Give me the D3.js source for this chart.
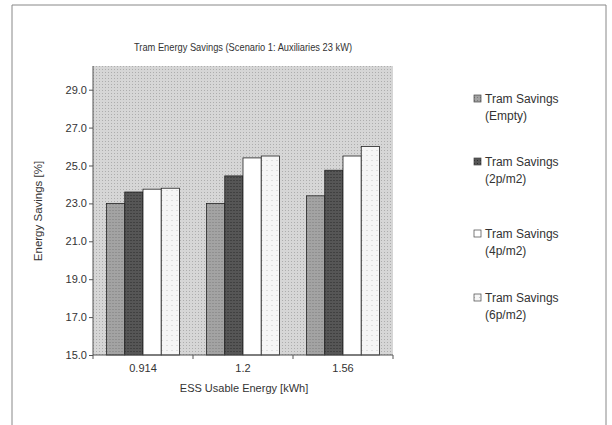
<!DOCTYPE html>
<meta charset="utf-8">
<style>
  body { margin: 0; background: #fff; }
  text { font-family: "Liberation Sans", Arial, sans-serif; fill: #333; }
  .axis path, .axis line { stroke: #555; }
</style>
<body>
<script src="https://cdn.jsdelivr.net/npm/d3@7"></script>
<script>

var categories = ["0.914", "1.2", "1.56"];
var seriesNames = ["Empty", "2p/m2", "4p/m2", "6p/m2"];
var empty = [23.0, 23.0, 23.4];
var p2 = [23.6, 24.45, 24.75];
var p4 = [23.75, 25.4, 25.5];
var p6 = [23.8, 25.5, 26.0];
var yTicks = [15, 17, 19, 21, 23, 25, 27, 29];

var values = [empty, p2, p4, p6];

var width = 612, height = 425;
var plot = {left: 93, right: 393, top: 66, bottom: 355};

var svg = d3.select("body").append("svg")
    .attr("width", width)
    .attr("height", height);

var defs = svg.append("defs");

// light speckle so the fills look a bit like the scanned print
function pattern(id, bg, dot, size) {
  var p = defs.append("pattern")
      .attr("id", id)
      .attr("width", size).attr("height", size)
      .attr("patternUnits", "userSpaceOnUse");
  p.append("rect").attr("width", size).attr("height", size).attr("fill", bg);
  if (dot) p.append("rect").attr("width", 1).attr("height", 1).attr("fill", dot);
}
pattern("bg", "#d6d6d6", "#adadad", 3);
pattern("s0", "#a3a3a3", "#7c7c7c", 3);
pattern("s1", "#565656", "#2c2c2c", 3);
pattern("s2", "#ffffff", null, 3);
pattern("s3", "#f6f6f6", "#c8c8c8", 5);

// outer frame
svg.append("path")
    .attr("d", "M12,425V5H606V425")
    .attr("fill", "none")
    .attr("stroke", "#888");

var y = d3.scaleLinear()
    .domain([15, 30.25])
    .range([plot.bottom, plot.top]);

var x0 = d3.scaleBand()
    .domain(categories)
    .range([plot.left, plot.right])
    .paddingInner(0.27)
    .paddingOuter(0.135);

var x1 = d3.scaleBand()
    .domain(seriesNames)
    .range([0, x0.bandwidth()]);

svg.append("rect")
    .attr("x", plot.left).attr("y", plot.top)
    .attr("width", plot.right - plot.left)
    .attr("height", plot.bottom - plot.top)
    .attr("fill", "url(#bg)");

var groups = svg.selectAll("g.group")
    .data(categories)
  .enter().append("g")
    .attr("class", "group")
    .attr("transform", function(d) { return "translate(" + x0(d) + ",0)"; });

groups.selectAll("rect")
    .data(function(d, i) {
      return seriesNames.map(function(s, j) { return {s: s, j: j, v: values[j][i]}; });
    })
  .enter().append("rect")
    .attr("x", function(d) { return x1(d.s); })
    .attr("y", function(d) { return y(d.v); })
    .attr("width", x1.bandwidth())
    .attr("height", function(d) { return y(15) - y(d.v); })
    .attr("fill", function(d) { return "url(#s" + d.j + ")"; })
    .attr("stroke", "#222")
    .attr("stroke-width", 0.8);

// y axis
var yAxis = svg.append("g")
    .attr("class", "axis")
    .attr("transform", "translate(" + plot.left + ",0)")
    .call(d3.axisLeft(y).tickValues(yTicks).tickFormat(d3.format(".1f")).tickSize(4).tickSizeOuter(0));
yAxis.select(".domain").attr("d", "M0," + plot.top + "V" + plot.bottom);
yAxis.selectAll("text").style("font-size", "11px").attr("x", -6);

// x axis, ticks between categories
var xAxis = svg.append("g")
    .attr("class", "axis")
    .attr("transform", "translate(0," + plot.bottom + ")");
xAxis.append("line")
    .attr("x1", plot.left).attr("x2", plot.right)
    .attr("stroke", "#555");
var step = x0.step();
xAxis.selectAll("line.tick")
    .data(d3.range(categories.length + 1))
  .enter().append("line")
    .attr("class", "tick")
    .attr("x1", function(i) { return plot.left + i * step; })
    .attr("x2", function(i) { return plot.left + i * step; })
    .attr("y2", 4)
    .attr("stroke", "#555");
xAxis.selectAll("text")
    .data(categories)
  .enter().append("text")
    .attr("x", function(d) { return x0(d) + x0.bandwidth() / 2; })
    .attr("y", 17)
    .attr("text-anchor", "middle")
    .style("font-size", "11px")
    .text(function(d) { return d; });

// titles
svg.append("text")
    .attr("x", 243).attr("y", 51)
    .attr("text-anchor", "middle")
    .attr("textLength", 218)
    .attr("lengthAdjust", "spacingAndGlyphs")
    .style("font-size", "11px")
    .text("Tram Energy Savings (Scenario 1: Auxiliaries 23 kW)");

svg.append("text")
    .attr("x", 244).attr("y", 392)
    .attr("text-anchor", "middle")
    .style("font-size", "11px")
    .text("ESS Usable Energy [kWh]");

svg.append("text")
    .attr("transform", "translate(42,211)rotate(-90)")
    .attr("text-anchor", "middle")
    .style("font-size", "11.5px")
    .text("Energy Savings [%]");

// legend
var legendY = [103, 166, 238, 302];
var legend = svg.selectAll("g.legend")
    .data(seriesNames)
  .enter().append("g")
    .attr("class", "legend")
    .attr("transform", function(d, i) { return "translate(474," + legendY[i] + ")"; });
legend.append("rect")
    .attr("x", 0).attr("y", -8)
    .attr("width", 7).attr("height", 7)
    .attr("fill", function(d, i) { return "url(#s" + i + ")"; })
    .attr("stroke", "#444")
    .attr("stroke-width", 0.7);
legend.append("text")
    .attr("x", 11).attr("y", 0)
    .style("font-size", "12px")
    .text("Tram Savings");
legend.append("text")
    .attr("x", 11).attr("y", 17)
    .style("font-size", "12px")
    .text(function(d) { return "(" + d + ")"; });

</script>
</body>
